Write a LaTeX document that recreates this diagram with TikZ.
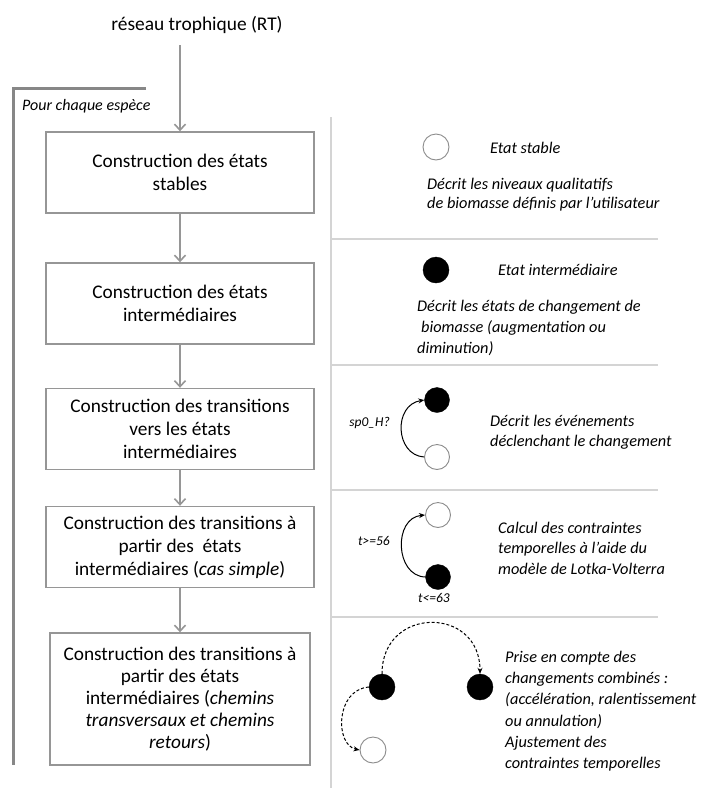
\documentclass[tikz,border=0pt]{standalone}
\usepackage{fontspec}
\setmainfont{Carlito}
\usetikzlibrary{arrows.meta}
\definecolor{boxgray}{RGB}{150,150,150}
\definecolor{bracketgray}{RGB}{135,135,135}
\definecolor{sepgray}{RGB}{212,212,212}
\definecolor{circgray}{RGB}{140,140,140}
\tikzset{
  stepbox/.style={draw=boxgray,line width=1.4pt,fill=white,minimum width=268pt,minimum height=81pt,align=center,inner sep=0pt,font=\fontsize{19.3}{23}\selectfont},
  flow/.style={draw=boxgray,line width=2pt,-{Straight Barb[length=6pt,width=11pt,line width=1.6pt]}},
  sep/.style={draw=sepgray,line width=2.5pt},
  vsep/.style={draw=sepgray,line width=1.8pt},
  desc/.style={align=left,anchor=west,inner sep=0pt,font=\itshape\fontsize{16.3}{20.5}\selectfont},
  whitest/.style={circle,draw=circgray,line width=0.9pt,fill=white,minimum size=26pt,inner sep=0pt},
  blackst/.style={circle,draw=black,fill=black,minimum size=26pt,inner sep=0pt},
  lbl/.style={inner sep=0pt,font=\itshape\fontsize{13.5}{15}\selectfont},
  trans/.style={draw=black,line width=1pt,-{Stealth[length=6pt,width=5pt]}},
  dtrans/.style={draw=black,line width=1pt,dashed,dash pattern=on 3pt off 2pt,-{Stealth[length=6pt,width=5pt]}}
}
\begin{document}
\begin{tikzpicture}[x=1pt,y=-1pt]
\useasboundingbox[fill=white] (0,0) rectangle (703,788);

% title
\node[inner sep=0pt,font=\fontsize{19.4}{22}\selectfont] (rt) at (197,25) {réseau trophique (RT)};

% left bracket
\coordinate (brT) at (146,88);
\coordinate (brC) at (13,88);
\coordinate (brB) at (13,765);
\draw[draw=bracketgray,line width=3pt] (brT) -- (brC) -- (brB);
\node[anchor=west,inner sep=0pt,font=\itshape\fontsize{16}{18}\selectfont] (pce) at (22,106) {Pour chaque espèce};

% right separators
\coordinate (v1) at (331,117);
\coordinate (v2) at (331,788);
\draw[vsep] (v1) -- (v2);
\coordinate (h1a) at (331,239); \coordinate (h1b) at (658,239);
\coordinate (h2a) at (331,365); \coordinate (h2b) at (658,365);
\coordinate (h3a) at (331,490); \coordinate (h3b) at (658,490);
\coordinate (h4a) at (331,617); \coordinate (h4b) at (658,617);
\draw[sep] (h1a) -- (h1b);
\draw[sep] (h2a) -- (h2b);
\draw[sep] (h3a) -- (h3b);
\draw[sep] (h4a) -- (h4b);

% boxes
\node[stepbox] (b1) at (180,172.5) {Construction des états\\stables};
\node[stepbox] (b2) at (180,303.5) {Construction des états\\intermédiaires};
\node[stepbox] (b3) at (180,429) {Construction des transitions\\vers les états\\intermédiaires};
\node[stepbox] (b4) at (180,547) {Construction des transitions à\\partir des~ états\\intermédiaires (\textit{cas simple})};
\node[stepbox,minimum width=260pt,minimum height=132pt,font=\fontsize{19.3}{22}\selectfont] (b5) at (180,699) {Construction des transitions à\\partir des états\\intermédiaires (\textit{chemins}\\\textit{transversaux et chemins}\\\textit{retours})};

\coordinate (rtb) at (180,45);
\draw[flow] (rtb) -- (b1.north);
\draw[flow] (b1.south) -- (b2.north);
\draw[flow] (b2.south) -- (b3.north);
\draw[flow] (b3.south) -- (b4.north);
\draw[flow] (b4.south) -- (b5.north);

% panel 1
\node[whitest] (s1) at (436,147) {};
\node[anchor=west,inner sep=0pt,font=\itshape\fontsize{16.3}{18}\selectfont] (t1) at (490,148) {Etat stable};
\node[desc,font=\itshape\fontsize{16.3}{19}\selectfont] (d1) at (427,195) {Décrit les niveaux qualitatifs\\de biomasse définis par l’utilisateur};

% panel 2
\node[blackst] (s2) at (436,270) {};
\node[anchor=west,inner sep=0pt,font=\itshape\fontsize{16.3}{18}\selectfont] (t2) at (498,270) {Etat intermédiaire};
\node[desc,font=\itshape\fontsize{16.3}{21}\selectfont] (d2) at (417,328) {Décrit les états de changement de\\\hspace*{4pt}biomasse (augmentation ou\\diminution)};

% panel 3
\node[blackst,minimum size=25pt] (b3s) at (437,400) {};
\node[whitest,minimum size=25pt] (w3s) at (437,457) {};
\draw[trans] (w3s.west) .. controls (395,455) and (393,405) .. (b3s.west);
\node[lbl,anchor=east] (l3) at (390,423) {sp0\_H?};
\node[desc] (d3) at (490,432) {Décrit les événements\\déclenchant le changement};

% panel 4
\node[whitest,minimum size=25pt] (w4s) at (438,515) {};
\node[blackst,minimum size=25pt] (b4s) at (438,577) {};
\draw[trans] (b4s.west) .. controls (395,576) and (393,518) .. (w4s.west);
\node[lbl,anchor=east] (l4a) at (390,541) {t>=56};
\node[lbl] (l4b) at (434,598) {t<=63};
\node[desc] (d4) at (498,548) {Calcul des contraintes\\temporelles à l’aide du\\modèle de Lotka-Volterra};

% panel 5
\node[blackst] (a5) at (382,687) {};
\node[blackst] (c5) at (480,687) {};
\node[whitest] (e5) at (373,750) {};
\draw[dtrans] (a5.north) .. controls +(0,-68) and +(0,-68) .. (c5.north);
\draw[dtrans] (a5.west) .. controls (335,690) and (335,745) .. (e5.west);
\node[desc,font=\itshape\fontsize{16.3}{21.3}\selectfont] (d5) at (505,711) {Prise en compte des\\changements combinés :\\(accélération, ralentissement\\ou annulation)\\Ajustement des\\contraintes temporelles};
\end{tikzpicture}
\end{document}
